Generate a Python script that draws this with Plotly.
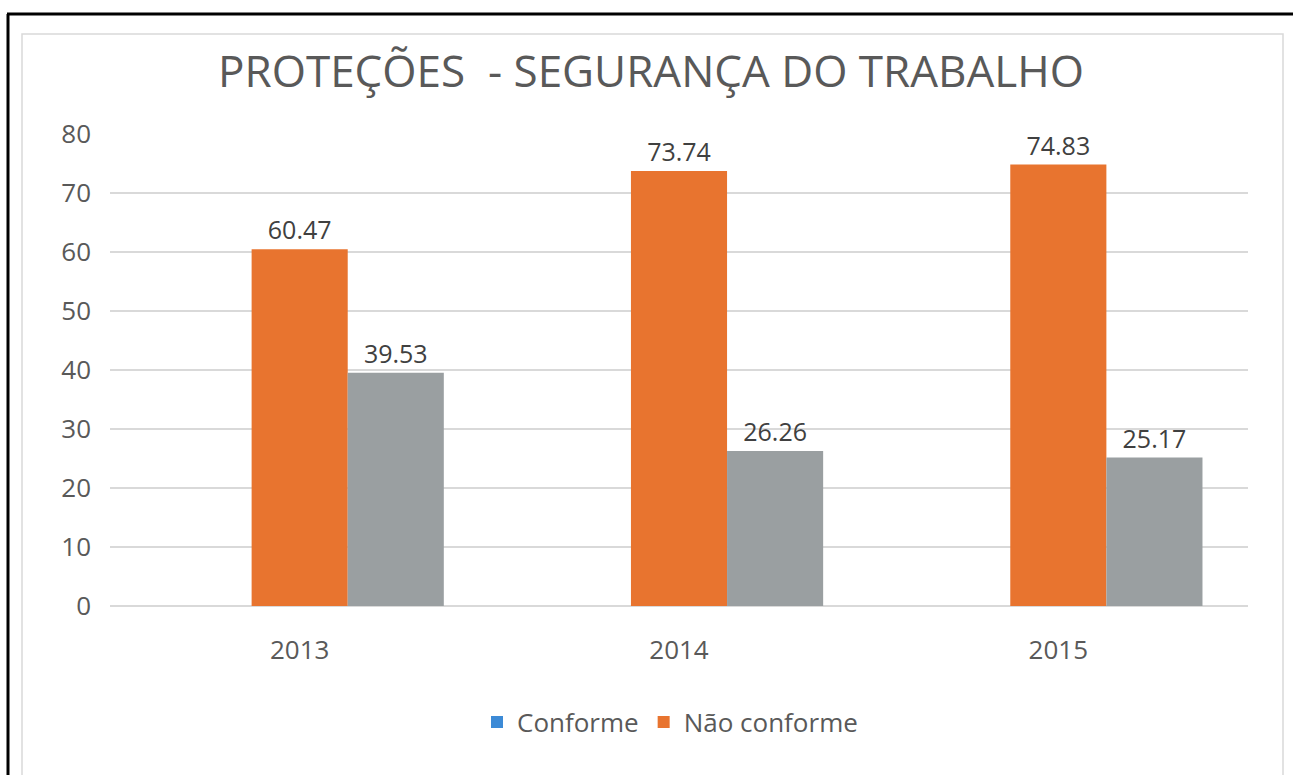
import plotly.graph_objects as go

categories = ["2013", "2014", "2015"]
conforme = [0, 0, 0]
nao_conforme = [60.47, 73.74, 74.83]
terceira = [39.53, 26.26, 25.17]
y_ticks = [0, 10, 20, 30, 40, 50, 60, 70, 80]

W, H = 1293, 775
L, R, T, B = 110, 45, 134, 169
PW, PH = W - L - R, H - T - B

def px(x):
    return (x - L) / PW

def py(y):
    return (H - B - y) / PH

TXT = "#595959"
LBL = "#404040"

fig = go.Figure()
fig.add_trace(go.Bar(x=categories, y=conforme, name="Conforme",
                     marker=dict(color="#3C8AD6", line=dict(width=0))))
fig.add_trace(go.Bar(x=categories, y=nao_conforme, name="Não conforme",
                     marker=dict(color="#E8742F", line=dict(width=0)),
                     text=[f"{v:.2f}" for v in nao_conforme], textposition="outside",
                     textfont=dict(size=25, color=LBL, family="Open Sans"),
                     cliponaxis=False))
fig.add_trace(go.Bar(x=categories, y=terceira, name="", showlegend=False,
                     marker=dict(color="#9A9FA1", line=dict(width=0)),
                     text=[f"{v:.2f}" for v in terceira], textposition="outside",
                     textfont=dict(size=25, color=LBL, family="Open Sans"),
                     cliponaxis=False))

shapes = [
    # outer black frame
    dict(type="line", xref="paper", yref="paper", x0=px(8), x1=px(8), y0=py(14), y1=py(H + 5),
         line=dict(color="black", width=3)),
    dict(type="line", xref="paper", yref="paper", x0=px(7), x1=px(W + 5), y0=py(14), y1=py(14),
         line=dict(color="black", width=3)),
    # inner light frame
    dict(type="rect", xref="paper", yref="paper", x0=px(22), x1=px(1283), y0=py(34), y1=py(H + 10),
         line=dict(color="#D9D9D9", width=1.5)),
]

fig.update_layout(
    width=W, height=H,
    margin=dict(l=L, r=R, t=T, b=B),
    paper_bgcolor="white", plot_bgcolor="white",
    barmode="group", bargap=0.24, bargroupgap=0,
    title=dict(text="PROTEÇÕES  - SEGURANÇA DO TRABALHO",
               xref="container", x=651 / W, xanchor="center",
               yref="container", y=1 - 72 / H, yanchor="middle",
               font=dict(family="Open Sans", size=44, color=TXT)),
    font=dict(family="Open Sans", color=TXT),
    showlegend=True,
    legend=dict(orientation="h", x=px(670), xanchor="center", y=py(722), yanchor="middle",
                font=dict(size=26, color=TXT, family="Open Sans"), traceorder="normal"),
    shapes=shapes,
)
fig.update_yaxes(range=[0, 80], tickvals=y_ticks, showgrid=True, gridcolor="#D9D9D9", gridwidth=2,
                 zeroline=True, zerolinecolor="#D9D9D9", zerolinewidth=2, showline=False,
                 tickfont=dict(size=26, color=TXT), ticks="", ticklabelstandoff=18)
fig.update_xaxes(showgrid=False, showline=False, ticks="", tickfont=dict(size=26, color=TXT),
                 ticklabelstandoff=26)

fig.write_html("out.html", config={"displayModeBar": False},
               post_script="document.body.style.margin='0';document.body.style.overflow='hidden';")
